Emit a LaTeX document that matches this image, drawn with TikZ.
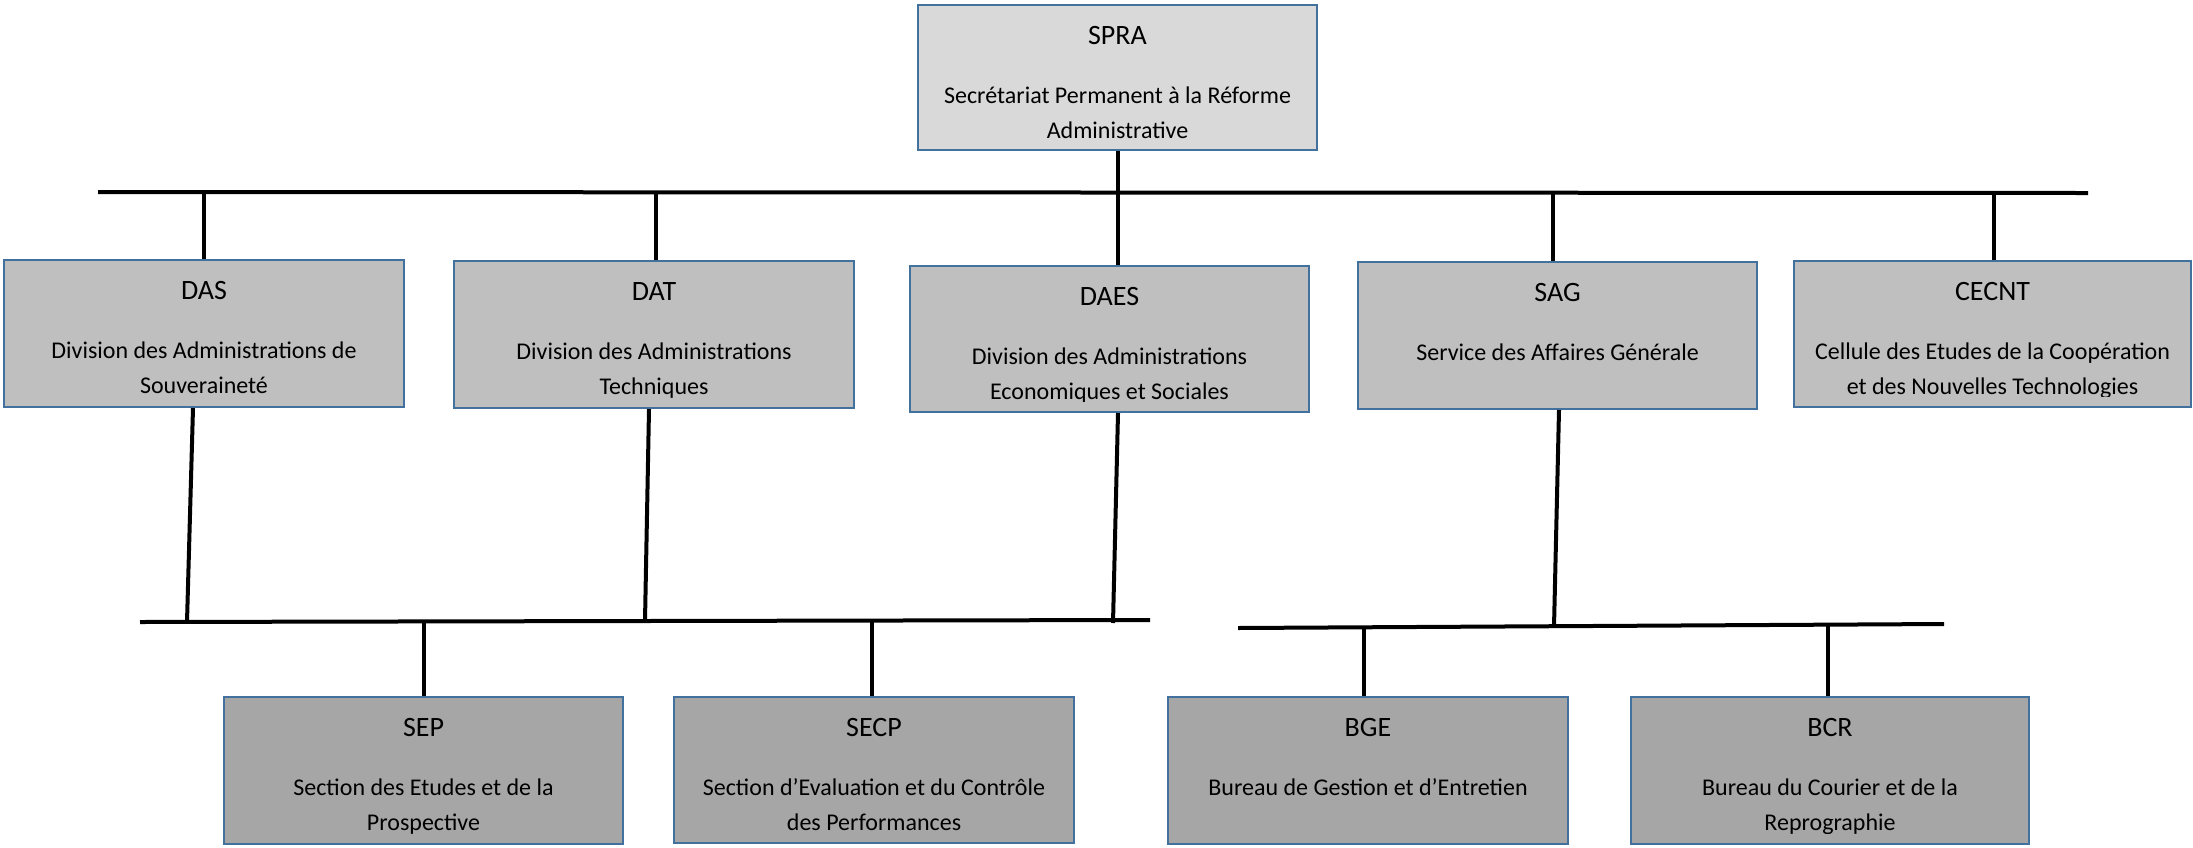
\documentclass[tikz,border=0pt]{standalone}
\usepackage{fontspec}
\setmainfont{Carlito}
\definecolor{bordc}{HTML}{41719C}
\definecolor{fillA}{HTML}{D9D9D9}
\definecolor{fillB}{HTML}{BFBFBF}
\definecolor{fillC}{HTML}{A6A6A6}
\newcommand\ttlfont{\fontsize{28}{34}\selectfont}
\newcommand\dscfont{\fontsize{24}{35}\selectfont}
\tikzset{
  box/.style={draw=bordc, line width=2pt, inner sep=0pt, anchor=north west, rectangle},
  ttl/.style={font=\ttlfont, anchor=base, inner sep=0pt, text=black},
  dsc/.style={font=\dscfont, anchor=base, inner sep=0pt, text=black},
  link/.style={draw=black, line width=4pt},
}
% #1 box name, #2 title, #3 first description line, #4 second description line
\newcommand\boxtext[4]{%
  \begin{scope}
    \clip ([shift={(1pt,-1pt)}]#1.north west) rectangle ([shift={(-1pt,11.5pt)}]#1.south east);
    \node[ttl] (#1-t) at ([yshift=-40pt]#1.north) {#2};
    \node[dsc] (#1-d) at ([yshift=-99pt]#1.north) {#3};
    \node[dsc] (#1-e) at ([yshift=-134pt]#1.north) {#4};
  \end{scope}}
\begin{document}
\begin{tikzpicture}[x=1pt,y=-1pt]
\useasboundingbox (0,0) rectangle (2193,847);

% boxes
\node[box, fill=fillA, minimum width=399pt, minimum height=145pt] (spra) at (917,4) {};
\node[box, fill=fillB, minimum width=400pt, minimum height=147pt] (das) at (3,259) {};
\node[box, fill=fillB, minimum width=400pt, minimum height=147pt] (dat) at (453,260) {};
\node[box, fill=fillB, minimum width=399pt, minimum height=146pt] (daes) at (909,265) {};
\node[box, fill=fillB, minimum width=399pt, minimum height=147pt] (sag) at (1357,261) {};
\node[box, fill=fillB, minimum width=397pt, minimum height=146pt] (cecnt) at (1793,260) {};
\node[box, fill=fillC, minimum width=399pt, minimum height=147pt] (sep) at (223,696) {};
\node[box, fill=fillC, minimum width=400pt, minimum height=146pt] (secp) at (673,696) {};
\node[box, fill=fillC, minimum width=400pt, minimum height=147pt] (bge) at (1167,696) {};
\node[box, fill=fillC, minimum width=398pt, minimum height=147pt] (bcr) at (1630,696) {};

\boxtext{spra}{SPRA}{Secrétariat Permanent à la Réforme}{Administrative}
\boxtext{das}{DAS}{Division des Administrations de}{Souveraineté}
\boxtext{dat}{DAT}{Division des Administrations}{Techniques}
\boxtext{daes}{DAES}{Division des Administrations}{Economiques et Sociales}
\boxtext{sag}{SAG}{Service des Affaires Générale}{}
\boxtext{cecnt}{CECNT}{Cellule des Etudes de la Coopération}{et des Nouvelles Technologies}
\boxtext{sep}{SEP}{Section des Etudes et de la}{Prospective}
\boxtext{secp}{SECP}{Section d’Evaluation et du Contrôle}{des Performances}
\boxtext{bge}{BGE}{Bureau de Gestion et d’Entretien}{}
\boxtext{bcr}{BCR}{Bureau du Courier et de la}{Reprographie}

% bars
\coordinate (tl) at (98,192);
\coordinate (tr) at (2088,193);
\coordinate (ll) at (140,622);
\coordinate (lr) at (1150,620);
\coordinate (rl) at (1238,628);
\coordinate (rr) at (1944,624);
\draw[link] (tl) -- (tr);
\draw[link] (ll) -- (lr);
\draw[link] (rl) -- (rr);

% top level connectors
\coordinate (xspra) at (1118,0);
\draw[link] (spra.south -| xspra) -- (daes.north -| xspra);
\coordinate (xdas) at (204,192);
\coordinate (xdat) at (656,192);
\coordinate (xsag) at (1553,192);
\coordinate (xcec) at (1994,193);
\draw[link] (xdas) -- (das.north -| xdas);
\draw[link] (xdat) -- (dat.north -| xdat);
\draw[link] (xsag) -- (sag.north -| xsag);
\draw[link] (xcec) -- (cecnt.north -| xcec);

% from divisions down to lower bars
\coordinate (udas) at (193,0);  \coordinate (bdas) at (187,622);
\coordinate (udat) at (649,0);  \coordinate (bdat) at (645,621);
\coordinate (udaes) at (1118,0); \coordinate (bdaes) at (1113,623);
\coordinate (usag) at (1559,0); \coordinate (bsag) at (1554,627);
\draw[link] (das.south -| udas) -- (bdas);
\draw[link] (dat.south -| udat) -- (bdat);
\draw[link] (daes.south -| udaes) -- (bdaes);
\draw[link] (sag.south -| usag) -- (bsag);

% lower bars to sections / bureaux
\coordinate (tsep) at (424,621);
\coordinate (tsecp) at (872,621);
\coordinate (tbge) at (1364,627);
\coordinate (tbcr) at (1828,625);
\draw[link] (tsep) -- (sep.north -| tsep);
\draw[link] (tsecp) -- (secp.north -| tsecp);
\draw[link] (tbge) -- (bge.north -| tbge);
\draw[link] (tbcr) -- (bcr.north -| tbcr);
\end{tikzpicture}
\end{document}
